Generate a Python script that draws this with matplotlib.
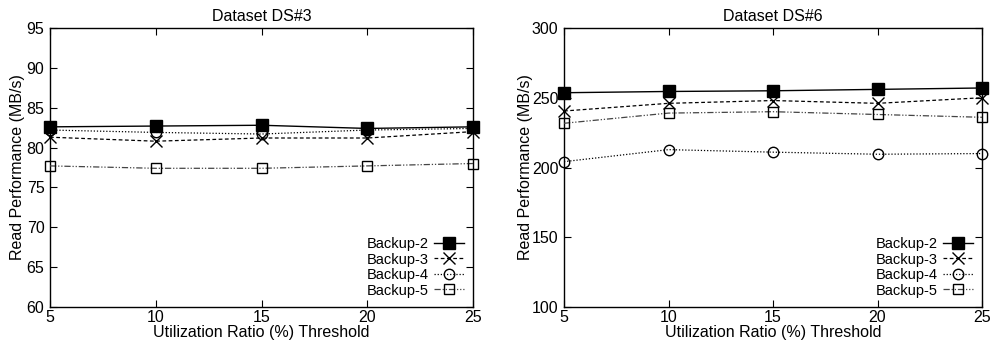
import numpy as np
import matplotlib.pyplot as plt

plt.rcParams['font.family'] = ['Liberation Sans', 'DejaVu Sans']
plt.rcParams['font.size'] = 11.5

thresholds = [5, 10, 15, 20, 25]
series_names = ["Backup-2", "Backup-3", "Backup-4", "Backup-5"]

ds3 = {
    "Backup-2": [82.6, 82.7, 82.8, 82.4, 82.6],
    "Backup-3": [81.3, 80.8, 81.2, 81.2, 82.0],
    "Backup-4": [82.2, 81.9, 81.7, 82.2, 82.4],
    "Backup-5": [77.7, 77.4, 77.4, 77.7, 78.0],
}
ds6 = {
    "Backup-2": [253.6, 254.5, 255.0, 256.0, 257.0],
    "Backup-3": [240.5, 246.0, 248.0, 246.0, 250.0],
    "Backup-4": [204.2, 212.8, 211.0, 209.5, 210.0],
    "Backup-5": [231.7, 239.0, 240.0, 238.0, 236.0],
}

styles = {
    "Backup-2": dict(ls='-', marker='s', ms=8, mfc='black', color='black', lw=1),
    "Backup-3": dict(ls=(0, (3, 2)), marker='x', ms=8, mew=1, color='black', lw=0.9),
    "Backup-4": dict(ls=(0, (1, 1.5)), marker='o', ms=7.5, mfc='none', color='black', lw=0.9),
    "Backup-5": dict(ls=(0, (5, 1.5, 1, 1.5, 1, 1.5)), marker='s', ms=7.5, mfc='none',
                     color='#444444', mec='black', lw=0.9),
}

fig = plt.figure(figsize=(9.96, 3.43), dpi=100)
ax1 = fig.add_axes([50/996, 1-307/343, 423/996, 279/343])
ax2 = fig.add_axes([564/996, 1-307/343, 418/996, 279/343])

panels = [
    (ax1, ds3, "Dataset DS#3", (60, 95), np.arange(60, 96, 5), -0.058),
    (ax2, ds6, "Dataset DS#6", (100, 300), np.arange(100, 301, 50), -0.074),
]

for ax, data, title, ylim, yticks, ylab_x in panels:
    for name in series_names:
        ax.plot(thresholds, data[name], label=name, **styles[name], clip_on=False, zorder=3)
    ax.set_xlim(5, 25)
    ax.set_ylim(*ylim)
    ax.set_xticks(thresholds)
    ax.set_yticks(yticks)
    ax.tick_params(direction='in', top=True, right=True, length=5, width=0.8)
    ax.tick_params(axis='y', pad=4)
    ax.tick_params(axis='x', pad=2)
    for s in ax.spines.values():
        s.set_linewidth(1)
    ax.set_title(title, fontsize=11.5, pad=5)
    ax.set_xlabel("Utilization Ratio (%) Threshold", labelpad=0)
    ax.set_ylabel("Read Performance (MB/s)")
    ax.yaxis.set_label_coords(ylab_x, 0.5)
    ax.legend(loc='lower right', frameon=False, markerfirst=False, handlelength=2.0,
              fontsize=10.5, labelspacing=0.1, borderaxespad=0.25, handletextpad=0.4)

fig.savefig("out.png", dpi=100)
